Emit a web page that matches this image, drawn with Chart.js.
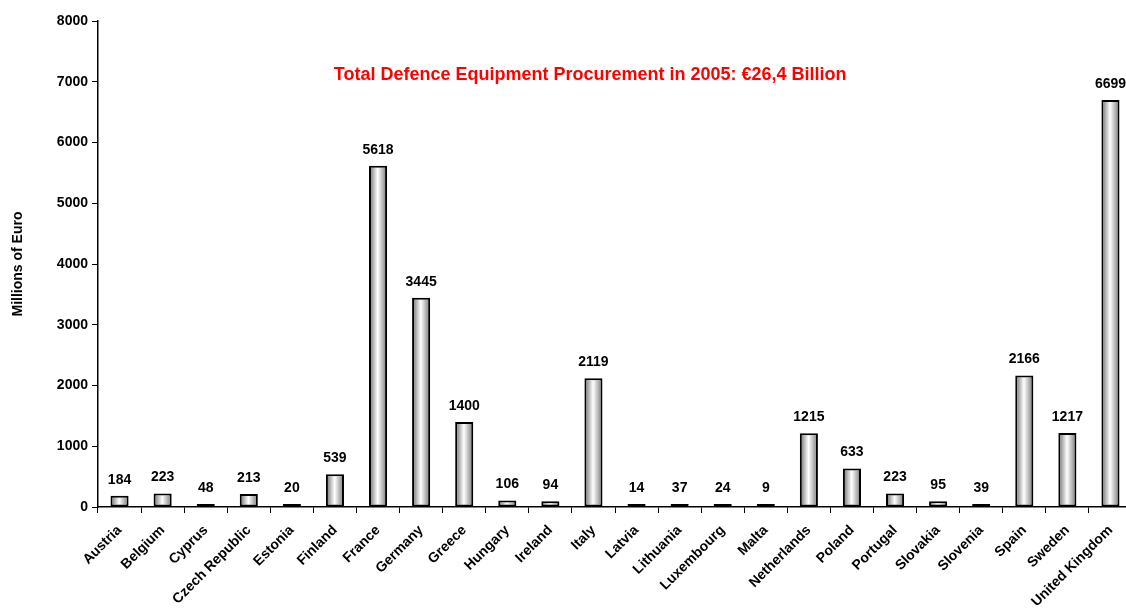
<!DOCTYPE html>
<html>
<head>
<meta charset="utf-8">
<script src="https://cdn.jsdelivr.net/npm/chart.js@4/dist/chart.umd.min.js"></script>
<style>
  html, body { margin: 0; padding: 0; background: #fff; overflow: hidden; }
  #wrap { width: 1140px; height: 609px; position: relative; }
</style>
</head>
<body>
<div id="wrap"><canvas id="chart"></canvas></div>
<script>
// Defence equipment procurement per country, 2005 (millions of euro)
const countries = ['Austria', 'Belgium', 'Cyprus', 'Czech Republic', 'Estonia', 'Finland', 'France',
    'Germany', 'Greece', 'Hungary', 'Ireland', 'Italy', 'Latvia', 'Lithuania', 'Luxembourg', 'Malta',
    'Netherlands', 'Poland', 'Portugal', 'Slovakia', 'Slovenia', 'Spain', 'Sweden', 'United Kingdom'];
const procurement = [184, 223, 48, 213, 20, 539, 5618, 3445, 1400, 106, 94, 2119, 14, 37, 24, 9,
    1215, 633, 223, 95, 39, 2166, 1217, 6699];
const yTicks = [0, 1000, 2000, 3000, 4000, 5000, 6000, 7000, 8000];
const headline = 'Total Defence Equipment Procurement in 2005: \u20AC26,4 Billion';

const FONT = 'Liberation Sans, Arial, sans-serif';
const BAR_PCT = 0.42;

// Cylinder-like shading across each bar
function barGradient(context) {
    const chart = context.chart;
    if (!chart.chartArea) return '#ccc';
    const xs = chart.scales.x;
    const cx = xs.getPixelForValue(context.dataIndex);
    const w = xs.width / countries.length * BAR_PCT;
    const g = chart.ctx.createLinearGradient(cx - w / 2, 0, cx + w / 2, 0);
    g.addColorStop(0, '#6a6a6a');
    g.addColorStop(0.48, '#ffffff');
    g.addColorStop(1, '#757575');
    return g;
}

// Value labels above the bars and the headline inside the plot
const labelPlugin = {
    id: 'valueLabels',
    afterDatasetsDraw(chart) {
        const ctx = chart.ctx;
        const meta = chart.getDatasetMeta(0);
        ctx.save();
        ctx.fillStyle = '#000';
        ctx.font = 'bold 14px ' + FONT;
        ctx.textAlign = 'center';
        ctx.textBaseline = 'bottom';
        meta.data.forEach((bar, i) => {
            ctx.fillText(procurement[i], bar.x, bar.y - 9);
        });
        const area = chart.chartArea;
        ctx.fillStyle = '#ff0000';
        ctx.font = 'bold 18px ' + FONT;
        ctx.textBaseline = 'middle';
        ctx.fillText(headline, area.left + area.width * 0.476, chart.scales.y.getPixelForValue(7110));
        ctx.restore();
    }
};

new Chart(document.getElementById('chart'), {
    type: 'bar',
    data: {
        labels: countries,
        datasets: [{
            data: procurement,
            backgroundColor: barGradient,
            borderColor: '#000',
            borderWidth: 2,
            borderSkipped: false,
            minBarLength: 3,
            barPercentage: BAR_PCT,
            categoryPercentage: 1
        }]
    },
    options: {
        responsive: true,
        maintainAspectRatio: false,
        animation: false,
        layout: { padding: { top: 21, right: 8, left: 0, bottom: 0 } },
        plugins: {
            legend: { display: false },
            tooltip: { enabled: false }
        },
        scales: {
            x: {
                grid: { display: true, drawOnChartArea: false, drawTicks: true, tickLength: 6, color: '#000', offset: true },
                border: { display: true, color: '#000', width: 1.5 },
                ticks: {
                    color: '#000',
                    font: { family: FONT, size: 14, weight: 'bold' },
                    maxRotation: 45,
                    minRotation: 45,
                    autoSkip: false,
                    padding: 9
                },
                afterFit(scale) { scale.height = 102; }
            },
            y: {
                min: 0,
                max: 8000,
                afterBuildTicks(scale) { scale.ticks = yTicks.map(v => ({ value: v })); },
                grid: { display: true, drawOnChartArea: false, drawTicks: true, tickLength: 6, color: '#000' },
                border: { display: true, color: '#000', width: 1.5 },
                ticks: {
                    color: '#000',
                    font: { family: FONT, size: 14, weight: 'bold' },
                    padding: 4,
                    callback: v => String(v)
                },
                title: {
                    display: true,
                    text: 'Millions of Euro',
                    color: '#000',
                    font: { family: FONT, size: 14, weight: 'bold' },
                    padding: { top: 10, bottom: 0 }
                },
                afterFit(scale) { scale.width = 98; }
            }
        }
    },
    plugins: [labelPlugin]
});
</script>
</body>
</html>
